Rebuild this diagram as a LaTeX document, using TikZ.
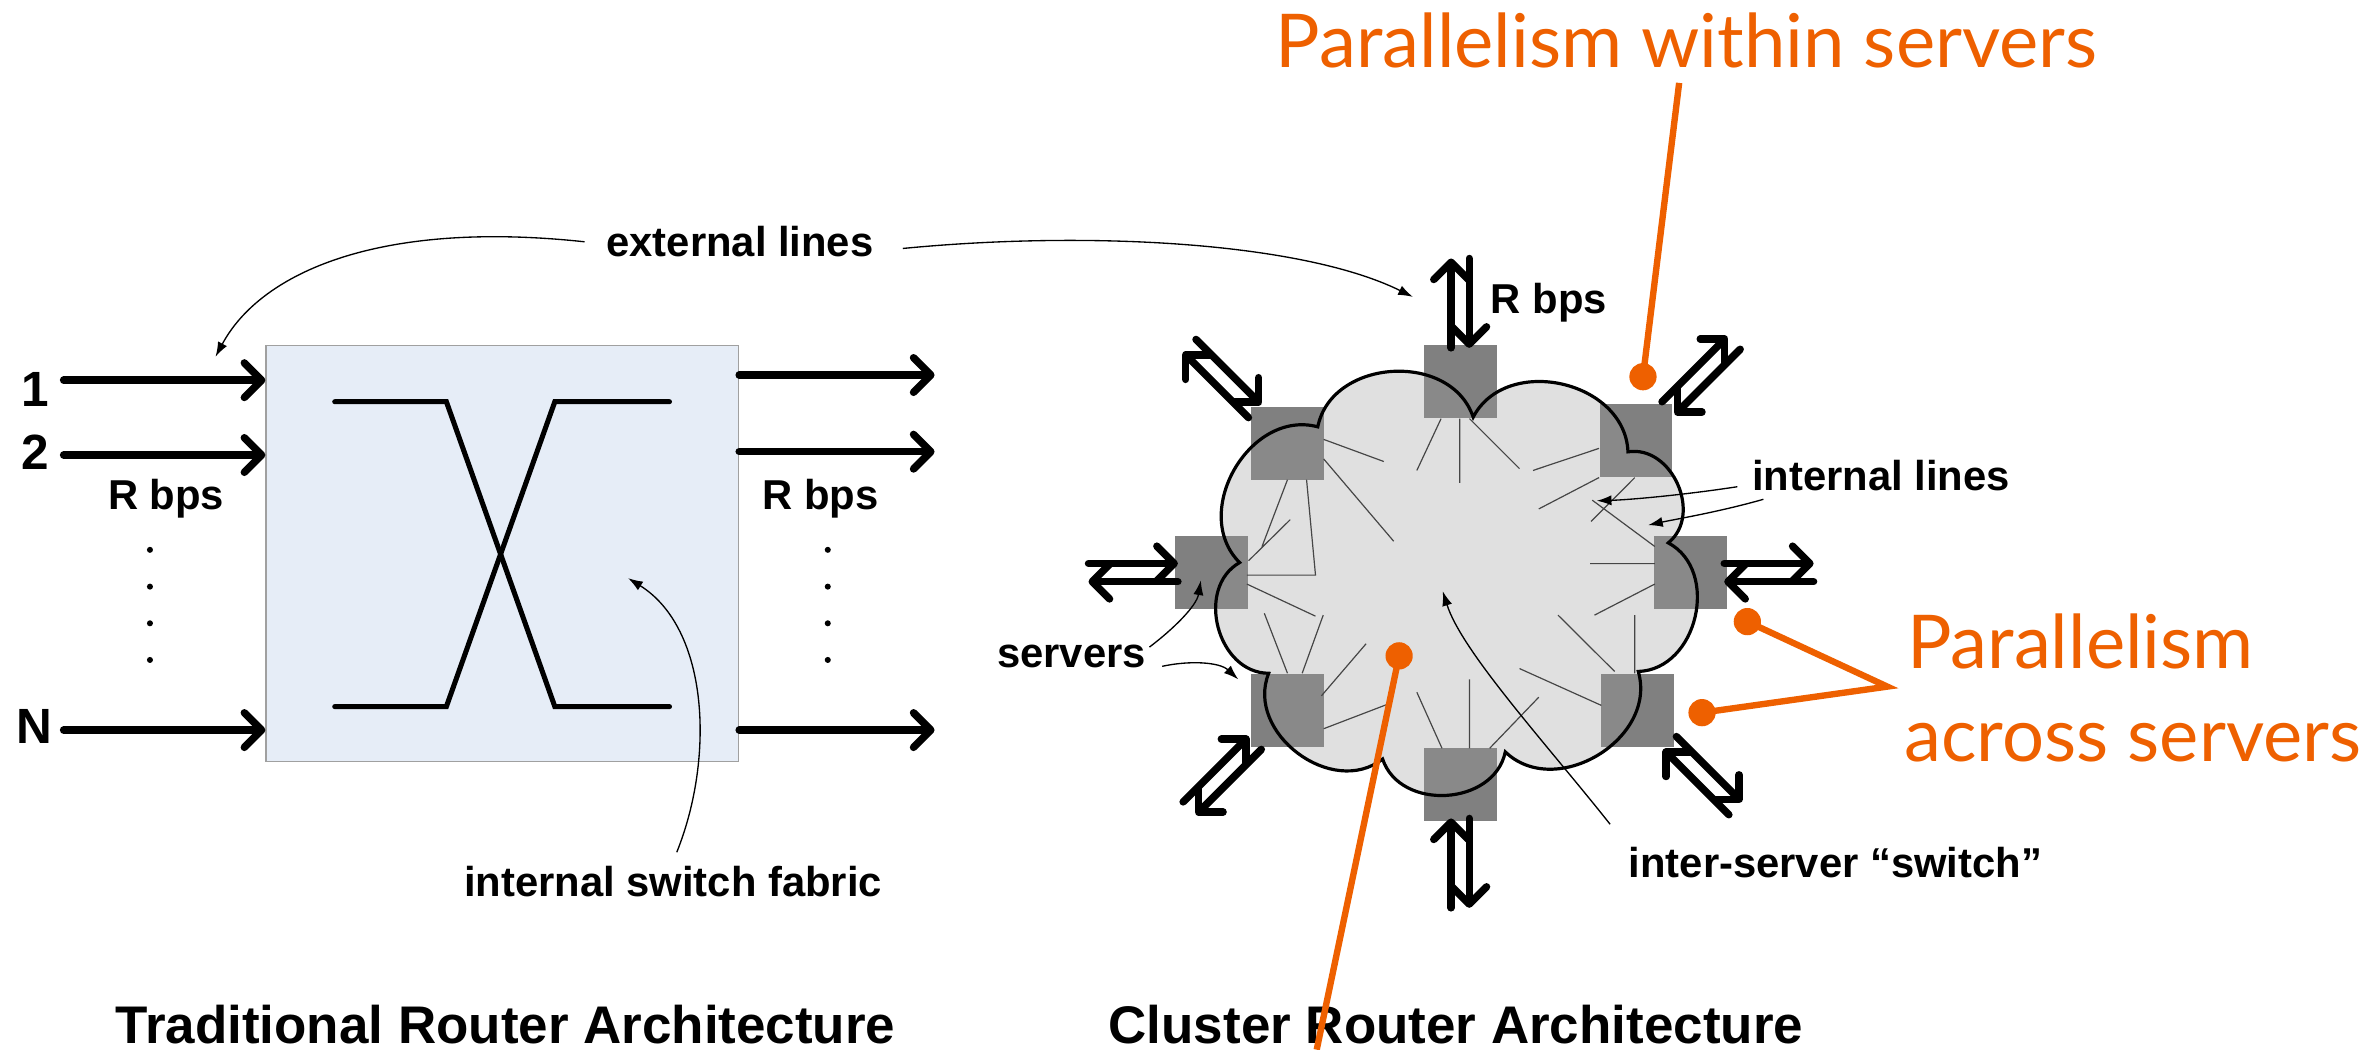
\documentclass[tikz,border=0pt]{standalone}
\usepackage{fontspec}
\setmainfont{Liberation Sans}
\newfontfamily\calloutfont{Lato}
\usetikzlibrary{arrows.meta,calc}

\definecolor{fabricblue}{RGB}{230,237,247}
\definecolor{boxedge}{RGB}{160,160,160}
\definecolor{servergrey}{RGB}{128,128,128}
\definecolor{puffgrey}{RGB}{157,157,157}
\definecolor{wiregrey}{RGB}{70,70,70}
\definecolor{calloutorange}{RGB}{238,96,0}

\begin{document}
\begin{tikzpicture}[
    x=0.02cm, y=0.02cm,
    tag/.style={
        font=\bfseries\fontsize{15.7}{18}\selectfont,
        inner sep=0pt,
        anchor=base west
    },
    heading/.style={
        font=\bfseries\fontsize{19.9}{24}\selectfont,
        inner sep=0pt,
        anchor=base west
    },
    portnum/.style={
        font=\bfseries\fontsize{18.6}{22}\selectfont,
        inner sep=0pt,
        anchor=base
    },
    fabric/.style={
        draw=boxedge,
        line width=0.5pt,
        fill=fabricblue,
        minimum width=6.24cm,
        minimum height=5.5cm,
        inner sep=0pt
    },
    server/.style={
        fill=servergrey,
        minimum size=0.96cm,
        inner sep=0pt
    },
    thickarrow/.style={
        line width=2.8pt,
        -{Straight Barb[length=6.5pt,width=13pt,round]},
        line cap=round
    },
    fabricx/.style={line width=1.9pt, line cap=round},
    wire/.style={draw=wiregrey, line width=0.45pt},
    puff/.style={bend left=75, looseness=1.15},
    pointer/.style={-{Latex[length=5.5pt,width=3.8pt]}, line width=0.5pt},
    callout/.style={draw=calloutorange, line width=2.4pt},
    calloutdot/.style={
        circle,
        fill=calloutorange,
        minimum size=0.36cm,
        inner sep=0pt
    },
    callouttext/.style={
        font=\calloutfont\fontsize{27.9}{34}\selectfont,
        text=calloutorange,
        inner sep=0pt,
        anchor=base west
    }
]

\useasboundingbox (0,0) rectangle (1568,-693);

% ============================================================
% TRADITIONAL ROUTER
% ============================================================

\node[fabric] (box) at (331.6,-365.4) {};

% crossed switch lines
\draw[fabricx] (221,-265.2) -- (294.7,-265.2) -- (366.3,-466.5) -- (442,-466.5);
\draw[fabricx] (221,-466.5) -- (294.7,-466.5) -- (366.3,-265.2) -- (442,-265.2);

% input lines
\coordinate (in1) at (42,-251);
\coordinate (in2) at (42,-300.4);
\coordinate (inN) at (42,-482);

\draw[thickarrow] (in1) -- (in1 -| box.west);
\draw[thickarrow] (in2) -- (in2 -| box.west);
\draw[thickarrow] (inN) -- (inN -| box.west);

\node[portnum] (num1) at (23.5,-268.6) {1};
\node[portnum] (num2) at (23.5,-310) {2};
\node[portnum] (numN) at (23,-490.8) {N};

% output lines
\coordinate (out1) at (617,-247.6);
\coordinate (out2) at (617,-298.2);
\coordinate (outN) at (617,-482);

\draw[thickarrow] (out1 -| box.east) -- (out1);
\draw[thickarrow] (out2 -| box.east) -- (out2);
\draw[thickarrow] (outN -| box.east) -- (outN);

\node[tag] (rateIn)  at (71,-336.7)  {R bps};
\node[tag] (rateOut) at (503,-336.7) {R bps};

\foreach \y in {363,387.3,411.5,435.7}{
    \fill (99,-\y) circle (2);
    \fill (546.5,-\y) circle (2);
}

\node[tag] (lblFabric) at (306,-592) {internal switch fabric};
\coordinate (fabTip) at (414.7,-381.7);
\draw[pointer] ([shift={(2.5,9)}]lblFabric.north)
    .. controls (472,-500) and (468,-415) .. (fabTip);


% ============================================================
% CLUSTER ROUTER
% ============================================================

% servers
\node[server] (sT)  at (964,-252)  {};
\node[server] (sTR) at (1080,-291) {};
\node[server] (sR)  at (1116,-378) {};
\node[server] (sBR) at (1081,-469) {};
\node[server] (sB)  at (964,-518)  {};
\node[server] (sBL) at (850,-469)  {};
\node[server] (sL)  at (800,-378)  {};
\node[server] (sTL) at (850,-293)  {};

% cloud
\path[fill=puffgrey, fill opacity=0.315, draw=black, line width=1.2pt]
    (870,-281.8)
    to[puff] (972.6,-275.4)
    to[puff] (1074.8,-298.3)
    to[puff] (1101.4,-358.4)
    to[puff] (1081.6,-443.3)
    to[puff] (993.8,-496.4)
    to[puff] (912.8,-501.1)
    to[puff] (837.6,-444.5)
    to[puff] (818.4,-371.4)
    to[puff] (870,-281.8) -- cycle;

% internal lines
\draw[wire]
    (873.9,-290.1) -- (913.6,-304.7)
    (873.9,-303.0) -- (920.1,-357.3)
    (951.4,-276.4) -- (935.4,-310.6)
    (963.7,-276.4) -- (963.7,-318.8)
    (970.2,-276.4) -- (1003.2,-309.4)
    (1055.7,-296.0) -- (1012.1,-310.6)
    (1055.7,-315.3) -- (1015.9,-336.0)
    (1079.3,-315.3) -- (1050.4,-344.3)
    (1092.5,-360.8) -- (1051.2,-330.2)
    (1092.5,-372.1) -- (1049.8,-372.1)
    (1092.5,-385.6) -- (1052.7,-406.1)
    (1079.3,-406.1) -- (1079.3,-444.5)
    (1066,-443.3) -- (1028.6,-406.1)
    (1057.2,-465.7) -- (1003.2,-441.4)
    (1015.9,-460.3) -- (983.5,-494.0)
    (970.2,-494.0) -- (970.2,-448.5)
    (952,-494) -- (935.4,-457.0)
    (873.9,-481.1) -- (915.7,-465.1)
    (872.4,-459.4) -- (901.9,-425.0)
    (859.7,-444.5) -- (873.6,-406.1)
    (850,-444.5) -- (834.7,-404.9)
    (823.2,-385.6) -- (868.5,-406.8)
    (823.2,-379.7) -- (868.5,-379.7) -- (862.6,-316.7)
    (850,-316.7) -- (833.2,-360.8)
    (824.3,-370.2) -- (851.8,-343.1);

% external lines at each server
\foreach \s/\a/\d in {sT/90/2, sTR/45/4, sR/0/2, sBR/-45/4,
                      sB/-90/2, sBL/-135/4, sL/180/2, sTL/135/4}{
    \pgfmathsetmacro{\al}{\a+90}
    \pgfmathsetmacro{\ar}{\a-90}
    \pgfmathsetmacro{\len}{57+\d}
    \draw[thickarrow] ($(\s.\a)+(\al:6)+(\a:-\d)$) -- ++(\a:\len);
    \draw[thickarrow] ($(\s.\a)+(\ar:6)+(\a:57)$) -- ++(\a:-\len);
}

\node[tag] (rateTop) at (984,-207) {R bps};

% labels and pointers
\node[tag] (lblExt) at (400,-169.5) {external lines};
\coordinate (extTipL) at (142.3,-235.5);
\coordinate (extTipR) at (932.8,-196);
\draw[pointer] ([xshift=-0.28cm]lblExt.west)
    .. controls (250,-145) and (172,-180) .. (extTipL);
\draw[pointer] ([shift={(19,-4.4)}]lblExt.east)
    .. controls (720,-152) and (860,-160) .. (extTipR);

\node[tag] (lblInt) at (1156.5,-323.5) {internal lines};
\coordinate (intTip1) at (1054.2,-330.6);
\coordinate (intTip2) at (1088.1,-346.7);
\draw[pointer] ([shift={(-9.5,-7.7)}]lblInt.west)
    .. controls (1110,-327) and (1075,-330) .. (intTip1);
\draw[pointer] ([shift={(7.7,-16)}]lblInt.west)
    .. controls (1135,-338) and (1105,-343) .. (intTip2);

\node[tag] (lblSrv) at (658,-441) {servers};
\coordinate (srvTipL) at (792.8,-383.2);
\coordinate (srvTipBL) at (817.5,-448.5);
\draw[pointer] ([shift={(2,6.5)}]lblSrv.east)
    .. controls (775,-415) and (790,-400) .. (srvTipL);
\draw[pointer] ([shift={(10.4,-6.2)}]lblSrv.east)
    .. controls (785,-436) and (805,-437) .. (srvTipBL);

\node[tag] (lblSwitch) at (1075,-579) {inter-server “switch”};
\coordinate (swTip) at (952.5,-390.3);
\draw[pointer] ([shift={(-12,14.5)}]lblSwitch.north west)
    .. controls (1020,-490) and (965,-430) .. (swTip);


% ============================================================
% TITLES
% ============================================================

\node[heading] (titleTrad) at (76,-688.7)   {Traditional Router Architecture};
\node[heading] (titleClus) at (731.6,-688.7) {Cluster Router Architecture};


% ============================================================
% CALLOUTS
% ============================================================

\node[callouttext] (parWithin)  at (842,-44.7)     {Parallelism within servers};
\node[callouttext] (parAcross1) at (1258.8,-441.2) {Parallelism};
\node[callouttext] (parAcross2) at (1257,-502.9)   {across servers};

\node[calloutdot] (dotWithin)  at (1084.7,-248.7) {};
\node[calloutdot] (dotAcross1) at (1153.6,-410.4) {};
\node[calloutdot] (dotAcross2) at (1123.7,-470.5) {};
\node[calloutdot] (dotCloud)   at (923.7,-433)    {};

\draw[callout] ([shift={(-5,-9.3)}]parWithin.south) -- (dotWithin.center);

\coordinate (acrossJoin) at (1246,-453.3);
\draw[callout] (dotAcross1.center) -- (acrossJoin) -- (dotAcross2.center);

\coordinate (cloudEnd) at (869.3,-693);
\draw[callout] (dotCloud.center) -- (cloudEnd);

\end{tikzpicture}
\end{document}
